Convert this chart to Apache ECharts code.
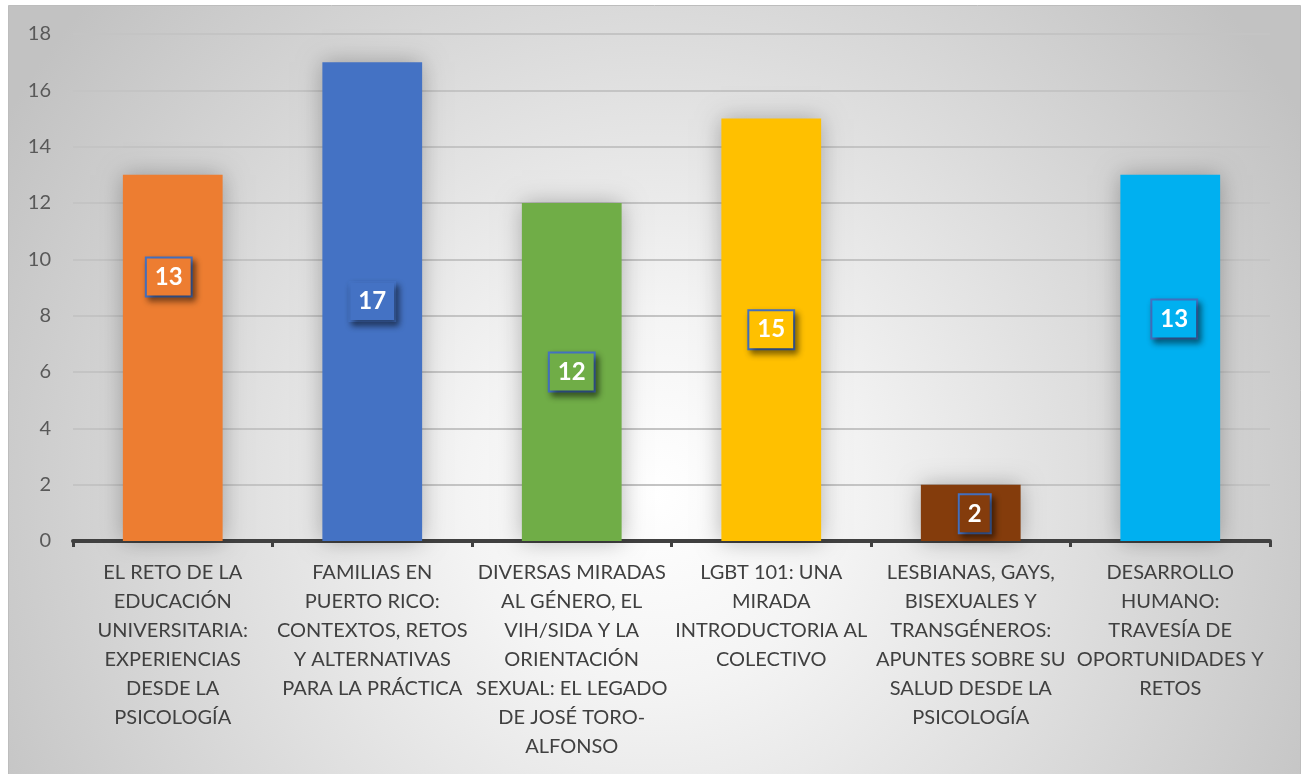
<!DOCTYPE html>
<html>
<head>
<meta charset="utf-8">
<script src="https://cdn.jsdelivr.net/npm/echarts@6/dist/echarts.min.js"></script>
<style>
  html, body { margin: 0; padding: 0; background: #fff; }
  #chart { width: 1302px; height: 774px; }
</style>
</head>
<body>
<div id="chart"></div>
<script>
// categories (axis labels, line breaks as in the original)
const categories = [
  "EL RETO DE LA\nEDUCACIÓN\nUNIVERSITARIA:\nEXPERIENCIAS\nDESDE LA\nPSICOLOGÍA",
  "FAMILIAS EN\nPUERTO RICO:\nCONTEXTOS, RETOS\nY ALTERNATIVAS\nPARA LA PRÁCTICA",
  "DIVERSAS MIRADAS\nAL GÉNERO, EL\nVIH/SIDA Y LA\nORIENTACIÓN\nSEXUAL: EL LEGADO\nDE JOSÉ TORO-\nALFONSO",
  "LGBT 101: UNA\nMIRADA\nINTRODUCTORIA AL\nCOLECTIVO",
  "LESBIANAS, GAYS,\nBISEXUALES Y\nTRANSGÉNEROS:\nAPUNTES SOBRE SU\nSALUD DESDE LA\nPSICOLOGÍA",
  "DESARROLLO\nHUMANO:\nTRAVESÍA DE\nOPORTUNIDADES Y\nRETOS"
];
const values = [13, 17, 12, 15, 2, 13];
const yTicks = [0, 2, 4, 6, 8, 10, 12, 14, 16, 18];

// styling
const barColors = ["#ED7D31", "#4472C4", "#70AD47", "#FFC000", "#843C0C", "#00B0F0"];
const labelShift = [[-4, -81], [0, 0], [0, 0], [0, 0], [4, 1], [4, -39]];

const chart = echarts.init(document.getElementById("chart"));

const option = {
  animation: false,
  graphic: [{
    type: "rect",
    left: 8, top: 5, z: -10,
    shape: { width: 1292, height: 790 },
    style: {
      fill: {
        type: "radial", x: 0.5, y: 0.62, r: 0.95,
        colorStops: [
          { offset: 0, color: "#ffffff" },
          { offset: 0.25, color: "#f4f4f4" },
          { offset: 0.7, color: "#d6d6d6" },
          { offset: 1, color: "#c2c2c2" }
        ]
      },
      stroke: "#bdbdbd", lineWidth: 1
    }
  }],
  grid: { left: 73, right: 32, top: 34, bottom: 233, containLabel: false },
  xAxis: {
    type: "category",
    data: categories,
    axisLine: { lineStyle: { color: "#404040", width: 4 } },
    axisTick: { show: true, length: 6, lineStyle: { color: "#404040", width: 3 } },
    axisLabel: {
      interval: 0, margin: 17,
      color: "#404040", fontSize: 20, lineHeight: 29,
      fontFamily: "Lato, 'Noto Sans', sans-serif"
    }
  },
  yAxis: {
    type: "value",
    min: yTicks[0], max: yTicks[yTicks.length - 1], interval: 2,
    axisLine: { show: false },
    axisTick: { show: false },
    axisLabel: {
      color: "#595959", fontSize: 20, margin: 22,
      fontFamily: "Lato, 'Noto Sans', sans-serif"
    },
    splitLine: { lineStyle: { color: "#c4c4c4", width: 2 } }
  },
  series: [{
    type: "bar",
    barWidth: "50%",
    data: values.map((v, i) => ({
      value: v,
      itemStyle: { color: barColors[i] },
      label: { backgroundColor: barColors[i], offset: labelShift[i] }
    })),
    itemStyle: {
      shadowBlur: 22, shadowColor: "rgba(0,0,0,0.28)"
    },
    label: {
      show: true,
      position: "inside",
      color: "#fff",
      fontSize: 24,
      lineHeight: 24,
      fontWeight: "bold",
      fontFamily: "Lato, 'Noto Sans', sans-serif",
      padding: [7, 8, 6, 8],
      borderColor: "#4472C4",
      borderWidth: 2,
      shadowBlur: 6,
      shadowOffsetX: 3,
      shadowOffsetY: 4,
      shadowColor: "rgba(0,0,0,0.45)"
    }
  }]
};

chart.setOption(option);
</script>
</body>
</html>
